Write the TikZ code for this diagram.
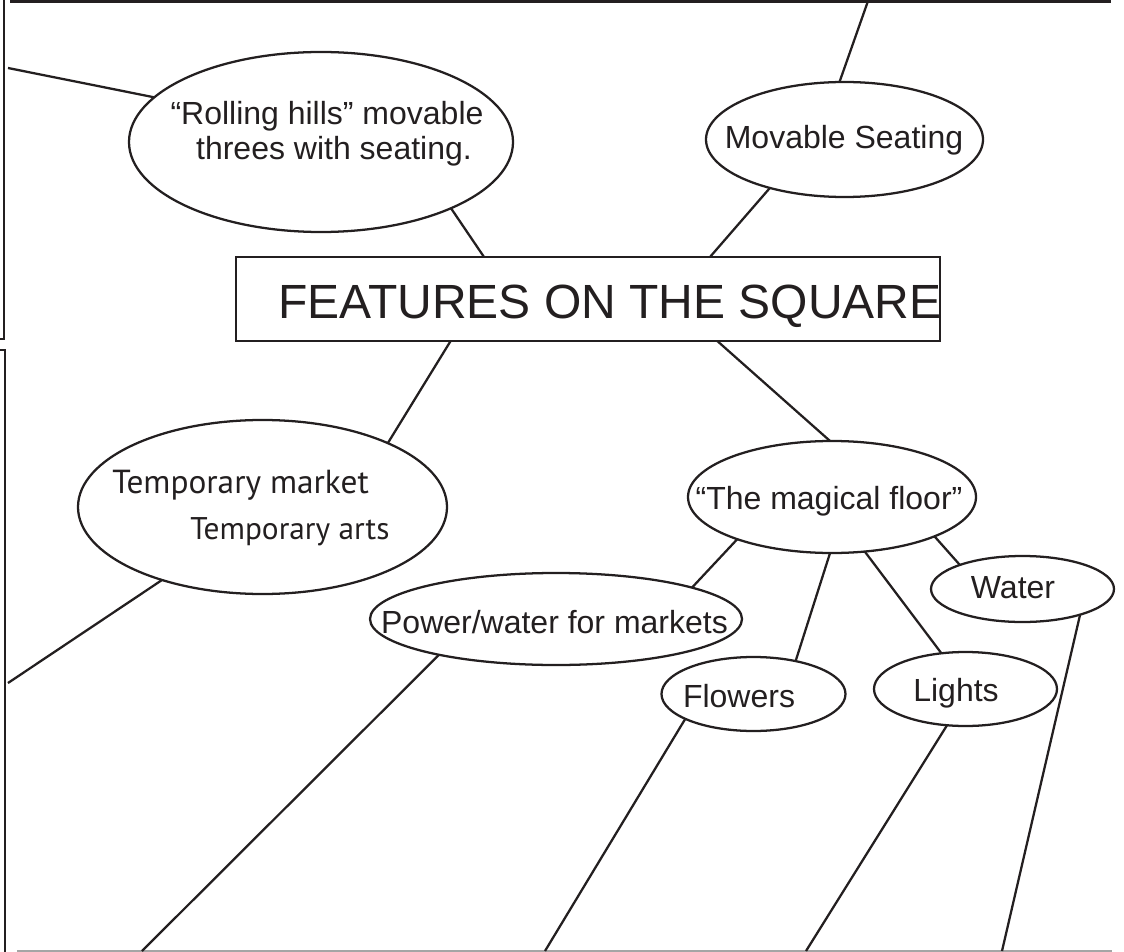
\documentclass[tikz,border=0pt]{standalone}
\usepackage{fontspec}
\setmainfont{Liberation Sans}
\newfontfamily\myriad{PT Sans}
\usetikzlibrary{shapes.geometric}
\definecolor{ink}{RGB}{35,31,32}
\definecolor{rulegray}{RGB}{165,165,165}
\begin{document}
\begin{tikzpicture}[x=0.75pt,y=-0.75pt,
  oval/.style={ellipse, draw=ink, line width=1.7pt, inner sep=0pt, outer sep=0pt},
  conn/.style={draw=ink, line width=1.7pt},
  framel/.style={draw=ink, line width=2pt},
  lbl/.style={text=ink, inner sep=0pt, anchor=base, font=\fontsize{24}{28}\selectfont},
  mlbl/.style={text=ink, inner sep=0pt, anchor=base west, font=\myriad\fontsize{25}{30}\selectfont},
  ]
\useasboundingbox (0,0) rectangle (1124,952);
% frame
\draw[framel] (10,1.4) -- (1111,1.4);
\draw[framel] (0,339) -- (4,339) -- (4,0);
\draw[framel] (0,350) -- (5,350) -- (5,952);
\draw[draw=rulegray, line width=1.2pt] (17,951) -- (1112,951);

% nodes
\node[oval, minimum width=288pt, minimum height=135pt] (rh) at (321,142) {};
\node[lbl] (rht1) at (327,125) {“Rolling hills” movable};
\node[lbl] (rht2) at (334,160) {threes with seating.};

\node[oval, minimum width=207.75pt, minimum height=86.25pt] (ms) at (844.5,139.5) {};
\node[lbl] (mst) at (844,149) {Movable Seating};

\node[draw=ink, line width=1.7pt, minimum width=528pt, minimum height=63pt, inner sep=0pt, outer sep=0pt] (box) at (588,299) {};
\node[text=ink, inner sep=0pt, anchor=base west, font=\fontsize{36}{40}\selectfont] (boxt) at (278,318) {FEATURES ON THE SQUARE};

\node[oval, minimum width=276.75pt, minimum height=130.5pt] (tm) at (262.5,507) {};
\node[mlbl] (tmt1) at (112,493) {Temporary market};
\node[mlbl, font=\myriad\fontsize{23.5}{28}\selectfont] (tmt2) at (190,539) {Temporary arts};

\node[oval, minimum width=216pt, minimum height=84pt] (mf) at (832,497) {};
\node[lbl] (mft) at (829,509) {“The magical floor”};

\node[oval, minimum width=137.25pt, minimum height=49.5pt] (wa) at (1022.5,589) {};
\node[lbl] (wat) at (1013,598) {Water};

\node[oval, minimum width=279pt, minimum height=69pt] (pw) at (556,619) {};
\node[lbl] (pwt) at (554.5,633) {Power/water for markets};

\node[oval, minimum width=138pt, minimum height=55.5pt] (fl) at (753.5,694) {};
\node[lbl] (flt) at (739,707) {Flowers};

\node[oval, minimum width=137.25pt, minimum height=55.5pt] (li) at (965.5,689) {};
\node[lbl] (lit) at (956,701) {Lights};

% free ends
\coordinate (e1) at (8,68);
\coordinate (e2) at (868,1);
\coordinate (e3) at (8,683);
\coordinate (e4) at (142,951);
\coordinate (e5) at (545,951);
\coordinate (e6) at (806,951);
\coordinate (e7) at (1002,951);

% connectors
\draw[conn] (e1) -- (rh.165.6);
\draw[conn] (rh.333.9) -- (box.158.6);
\draw[conn] (e2) -- (ms.95.4);
\draw[conn] (ms.213.6) -- (box.19.6);
\draw[conn] (box.197.5) -- (tm.27.4);
\draw[conn] (box.342.8) -- (mf.92);
\draw[conn] (tm.216.5) -- (e3);
\draw[conn] (pw.197.5) -- (e4);
\draw[conn] (mf.204) -- (pw.13.4);
\draw[conn] (mf.268) -- (fl.38.2);
\draw[conn] (mf.301) -- (li.124.6);
\draw[conn] (mf.339.2) -- (wa.159.6);
\draw[conn] (wa.336.7) -- (e7);
\draw[conn] (fl.200.3) -- (e5);
\draw[conn] (li.243.6) -- (e6);
\end{tikzpicture}
\end{document}
